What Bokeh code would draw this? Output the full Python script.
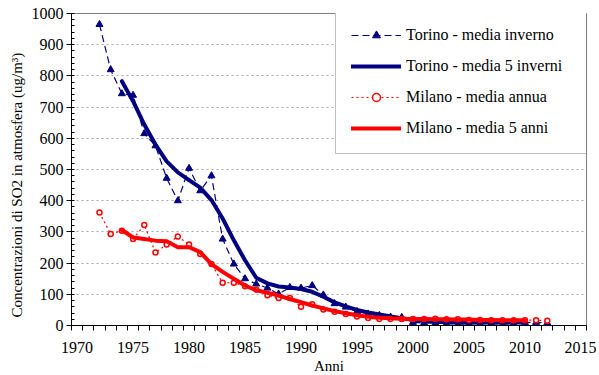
from bokeh.plotting import figure
from bokeh.models import Range1d, FixedTicker, Legend, LegendItem, Title
from bokeh.embed import file_html
from bokeh.resources import INLINE

# ---- data ----
anni_serie = list(range(1972, 2013))
anni_media = list(range(1974, 2011))

torino_inverno = [965, 820, 743, 738, 615, 576, 472, 400, 504, 432,
                  480, 277, 197, 150, 133, 120, 101, 122, 120, 128,
                  98, 70, 59, 45, 37, 32, 27, 26, 10, 8,
                  7, 6, 4, 6, 6, 6, 4, 6, 10, 10,
                  8]
torino_5_inverni = [783, 719, 644, 580, 526, 491, 466, 442, 402, 343,
                    273, 209, 153, 135, 125, 122, 117, 108, 92, 74,
                    61, 50, 42, 35, 29, 23, 18, 15, 12, 11,
                    10, 10, 10, 10, 10, 10, 10]
milano_annua = [362, 293, 304, 277, 322, 234, 260, 285, 260, 229,
                197, 137, 137, 126, 115, 97, 88, 88, 60, 68,
                51, 44, 37, 29, 24, 21, 21, 21, 21, 21,
                22, 20, 20, 18, 18, 17, 17, 17, 17, 17,
                15]
milano_5_anni = [306, 282, 277, 272, 270, 251, 251, 235, 197, 172,
                 150, 128, 113, 105, 96, 85, 75, 64, 55, 46,
                 39, 33, 28, 25, 23, 22, 21, 21, 20, 20,
                 19, 19, 18, 18, 17, 17, 17]

etichette = ["Torino - media inverno", "Torino - media 5 inverni",
             "Milano - media annua", "Milano - media 5 anni"]
anni_categorie = list(range(1970, 2016))          # category axis 1970..2015
x_ticks = list(range(1970, 2016, 5))               # labelled years
y_ticks = list(range(0, 1001, 100))
titolo_y = "Concentrazioni di SO2 in atmosfera (ug/m³)"

BLU = "#000080"
ROSSO = "#FF0000"
FONT = "Liberation Serif"

p = figure(frame_width=515, frame_height=312, output_backend="svg", toolbar_location=None,
           x_range=Range1d(anni_categorie[0] - 0.5, anni_categorie[-1] + 0.5),
           y_range=Range1d(0, 1000),
           min_border_left=71, min_border_right=10, min_border_top=13, min_border_bottom=50)

p.outline_line_color = "#808080"
p.outline_line_width = 1
p.background_fill_color = "white"
p.border_fill_color = "white"

# grid
p.xgrid.grid_line_color = None
p.ygrid.grid_line_color = "#A6A6A6"
p.ygrid.grid_line_dash = "2 3"
p.ygrid.grid_line_width = 1

# axes: labels at category centres, tick marks at category boundaries
p.xaxis.ticker = FixedTicker(ticks=x_ticks,
                             minor_ticks=[a - 0.5 for a in anni_categorie] + [anni_categorie[-1] + 0.5])
p.yaxis.ticker = FixedTicker(ticks=y_ticks, minor_ticks=list(range(0, 1001, 20)))
for ax in (p.xaxis[0], p.yaxis[0]):
    ax.axis_line_color = "black"
    ax.major_tick_line_color = "black"
    ax.minor_tick_line_color = "black"
    ax.major_label_text_font = FONT
    ax.major_label_text_font_size = "16px"
    ax.major_label_text_color = "black"
    ax.axis_label_text_font = FONT
    ax.axis_label_text_font_size = "15px"
    ax.axis_label_text_font_style = "normal"
    ax.axis_label_text_color = "black"
p.xaxis.major_tick_in = 0
p.xaxis.major_tick_out = 0
p.xaxis.minor_tick_in = 0
p.xaxis.minor_tick_out = 5
p.yaxis.major_tick_in = 0
p.yaxis.major_tick_out = 5
p.yaxis.minor_tick_in = 3
p.yaxis.minor_tick_out = 0
p.xaxis.major_label_standoff = 11
p.yaxis.major_label_standoff = 3
p.xaxis.axis_label = "Anni"
p.xaxis.axis_label_standoff = 2

# y-axis title, aligned towards the bottom like the original
t = Title(text=titolo_y, align="left", offset=8, standoff=8,
          text_font=FONT, text_font_size="15px", text_font_style="normal",
          text_color="black")
p.add_layout(t, "left")

# series
r1l = p.line(anni_serie, torino_inverno, line_color=BLU, line_width=1.2, line_dash="7 4")
r1m = p.scatter(anni_serie, torino_inverno, marker="triangle", size=7,
                fill_color=BLU, line_color=BLU)
r2 = p.line(anni_media, torino_5_inverni, line_color=BLU, line_width=4,
            line_join="round", line_cap="round")
r3l = p.line(anni_serie, milano_annua, line_color=ROSSO, line_width=1.2, line_dash="2 3")
r3m = p.scatter(anni_serie, milano_annua, marker="circle", size=5,
                fill_color="white", line_color=ROSSO, line_width=1.5)
r4 = p.line(anni_media, milano_5_anni, line_color=ROSSO, line_width=4,
            line_join="round", line_cap="round")

legend = Legend(items=[
    LegendItem(label=etichette[0], renderers=[r1l, r1m]),
    LegendItem(label=etichette[1], renderers=[r2]),
    LegendItem(label=etichette[2], renderers=[r3l, r3m]),
    LegendItem(label=etichette[3], renderers=[r4]),
], location=(264, 171))
legend.label_text_font = FONT
legend.label_text_font_size = "16px"
legend.label_text_color = "black"
legend.glyph_width = 50
legend.glyph_height = 20
legend.label_height = 20
legend.label_width = 165
legend.spacing = 11
legend.padding = 15
legend.label_standoff = 5
legend.margin = 0
legend.border_line_color = "#808080"
legend.border_line_width = 1
legend.background_fill_color = "white"
legend.background_fill_alpha = 1
p.add_layout(legend, "center")

open("out.html", "w").write(file_html(p, INLINE))
